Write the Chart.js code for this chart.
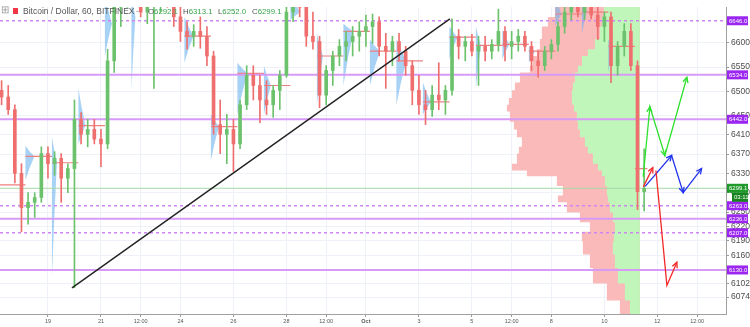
<!DOCTYPE html>
<html>
<head>
<meta charset="utf-8">
<script src="https://cdn.jsdelivr.net/npm/chart.js@4.4.0/dist/chart.umd.min.js"></script>
<style>
  html, body { margin: 0; padding: 0; background: #fff; }
  #wrap { position: relative; width: 750px; height: 327px; overflow: hidden; }
  #header { position: absolute; left: 0; top: 0; width: 300px; height: 20px;
            font: 8.5px "Liberation Sans", Arial, sans-serif; color: #555; }
  #header span { position: absolute; top: 6px; white-space: nowrap; }
  #header .ohlc { font-size: 7.8px; top: 6.5px; }
  #header .v { color: #3aa34a; position: static; }
  #header .sq { top: 8px; width: 5px; height: 6px; background: #f23645; }
</style>
</head>
<body>
<div id="wrap">
  <canvas id="priceChart" width="750" height="327"></canvas>
  <div id="header">
    <span style="left:1px;top:4px;font-size:10px;color:#999">⊞</span>
    <span class="sq" style="left:13px"></span>
    <span style="left:23px">Bitcoin / Dollar, 60, BITFINEX</span>
    <span style="left:136px;color:#999">-</span>
    <span class="ohlc" style="left:148px">O<span class="v">6292.1</span></span>
    <span class="ohlc" style="left:183px">H<span class="v">6313.1</span></span>
    <span class="ohlc" style="left:218px">L<span class="v">6252.0</span></span>
    <span class="ohlc" style="left:252px">C<span class="v">6299.1</span></span>
  </div>
</div>
<script>
// x axis is in days of September (Oct 1 = 31), candles are 6h each
const candleStart = 17.25;
const candleStep = 0.25;

const opens = [
  6502, 6488, 6462, 6330, 6259, 6270, 6280, 6371, 6350, 6361,
  6320, 6340, 6442, 6411, 6421, 6401, 6391, 6563, 6674, 6715,
  6735, 6705, 6664, 6695, 6715, 6725, 6705, 6654, 6624, 6614,
  6624, 6614, 6573, 6431, 6411, 6421, 6391, 6472, 6533, 6512,
  6482, 6472, 6502, 6533, 6664, 6695, 6674, 6614, 6603, 6492,
  6543, 6573, 6593, 6603, 6614, 6624, 6634, 6644, 6593, 6583,
  6603, 6583, 6553, 6502, 6472, 6462, 6492, 6482, 6502, 6614,
  6593, 6603, 6583, 6593, 6583, 6597, 6624, 6593, 6603, 6614,
  6593, 6563, 6553, 6583, 6597, 6634, 6664, 6674, 6664, 6674,
  6658, 6634, 6654, 6553, 6593, 6624, 6553, 6292
];
const highs = [
  6522, 6512, 6472, 6350, 6290, 6290, 6385, 6385, 6375, 6371,
  6350, 6482, 6456, 6442, 6442, 6421, 6587, 6695, 6755, 6765,
  6775, 6745, 6715, 6735, 6755, 6765, 6735, 6674, 6644, 6638,
  6654, 6634, 6583, 6482, 6452, 6442, 6482, 6553, 6553, 6533,
  6522, 6512, 6543, 6695, 6735, 6745, 6705, 6664, 6614, 6553,
  6583, 6607, 6624, 6634, 6644, 6658, 6660, 6654, 6620, 6614,
  6620, 6593, 6563, 6533, 6502, 6512, 6559, 6512, 6650, 6628,
  6614, 6618, 6614, 6614, 6607, 6670, 6634, 6624, 6628, 6624,
  6603, 6583, 6593, 6607, 6644, 6674, 6695, 6695, 6684, 6695,
  6674, 6664, 6664, 6603, 6640, 6640, 6563, 6381
];
const lows = [
  6472, 6452, 6310, 6209, 6225, 6239, 6270, 6320, 6326, 6270,
  6290, 6093, 6391, 6385, 6391, 6344, 6381, 6539, 6634, 6674,
  6684, 6654, 6640, 6506, 6664, 6674, 6634, 6603, 6587, 6593,
  6589, 6553, 6411, 6371, 6350, 6334, 6381, 6462, 6482, 6435,
  6452, 6446, 6462, 6529, 6644, 6654, 6593, 6587, 6466, 6472,
  6512, 6553, 6563, 6573, 6583, 6593, 6599, 6573, 6506, 6553,
  6563, 6533, 6472, 6452, 6431, 6448, 6462, 6452, 6492, 6567,
  6563, 6573, 6512, 6563, 6567, 6583, 6563, 6567, 6583, 6583,
  6543, 6529, 6543, 6567, 6583, 6620, 6648, 6654, 6648, 6650,
  6607, 6603, 6518, 6533, 6573, 6543, 6255, 6252
];
const closes = [
  6488, 6462, 6330, 6259, 6270, 6280, 6371, 6350, 6361, 6320,
  6340, 6442, 6411, 6421, 6401, 6391, 6563, 6674, 6715, 6735,
  6705, 6664, 6695, 6715, 6725, 6705, 6654, 6624, 6614, 6624,
  6614, 6573, 6431, 6411, 6421, 6391, 6472, 6533, 6512, 6482,
  6472, 6502, 6533, 6664, 6695, 6674, 6614, 6603, 6492, 6543,
  6573, 6593, 6603, 6614, 6624, 6634, 6644, 6593, 6583, 6603,
  6583, 6553, 6502, 6472, 6462, 6492, 6482, 6502, 6614, 6593,
  6603, 6583, 6593, 6583, 6597, 6624, 6593, 6603, 6614, 6593,
  6563, 6553, 6583, 6597, 6634, 6664, 6674, 6664, 6674, 6658,
  6634, 6654, 6553, 6593, 6624, 6553, 6292, 6299
];

// axis ticks
const xTickValues = [19, 21, 22.5, 24, 26, 28, 29.5, 31, 33, 35, 36.5, 38, 40, 42, 43.5];
const xTickLabels = ['19', '21', '12:00', '24', '26', '28', '12:00', 'Oct', '3', '5', '12:00', '8', '10', '12', '12:00'];
const yTickValues = [6600, 6550, 6500, 6450, 6410, 6370, 6330, 6290, 6250, 6220, 6190, 6160, 6102, 6074];

// horizontal levels
const solidLevels = [6534, 6442, 6236, 6130];
const dottedLevels = [6646, 6263, 6207];
const lastPrice = 6299.1;
const countdown = '03:11';

// visible range volume profile (right side)
const profilePrices = [6680, 6654, 6634, 6608, 6587, 6573, 6553, 6539, 6518, 6502, 6486, 6472, 6458, 6437, 6421, 6405, 6385,
  6371, 6350, 6336, 6324, 6304, 6284, 6270, 6249, 6229, 6209, 6189, 6162, 6134, 6102, 6067, 6036];
const profileTotal = [83, 85, 92, 98, 100, 103, 107, 110, 120, 125, 128, 131, 133, 130, 126, 123, 118,
  121, 123, 128, 113, 83, 77, 82, 73, 60, 50, 58, 57, 50, 47, 33, 20];
const profileUp = [35, 36, 38, 40, 45, 52, 58, 62, 65, 67, 68, 68, 66, 63, 62, 60, 55,
  52, 47, 42, 38, 35, 33, 32, 30, 27, 25, 26, 27, 25, 22, 15, 10];
const profileAnchor = 41.34;

// session volume profiles (one per day)
const sessionStarts = [17.15, 18.15, 19.15, 20.15, 21.15, 22.15, 23.15, 24.15, 25.15, 26.15, 27.15, 28.15, 29.15,
  30.15, 31.15, 32.15, 33.15, 34.15, 35.15, 36.15, 37.15, 38.15, 39.15, 40.15, 41.15];
const sessionPoc = [6306, 6365, 6352, 6429, null, null, null, 6614, 6427, 6537, 6512, null, 6573,
  6624, 6583, 6563, 6478, 6612, 6595, 6597, 6583, 6660, 6664, 6593, 6340];
const sessionTop = [null, 6387, 6405, 6506, 6700, 6700, null, 6654, 6452, 6559, 6553, 6700, 6620,
  6640, 6607, 6607, 6518, 6634, 6634, 6628, 6593, 6700, 6700, 6607, null];
const sessionBottom = [null, 6316, 6114, 6391, 6573, 6506, null, 6559, 6357, 6452, 6452, 6648, 6472,
  6512, 6512, 6472, 6452, 6567, 6506, 6567, 6559, 6634, 6620, 6539, null];
const sessionPeak = [null, 6365, 6352, 6429, 6640, 6654, null, 6614, 6427, 6537, 6512, 6664, 6573,
  6624, 6583, 6563, 6478, 6612, 6595, 6597, 6583, 6660, 6664, 6593, null];
const sessionVol = [null, 9, 5, 7, 7, 4, null, 9, 8, 10, 7, 10, 6,
  10, 10, 10, 8, 8, 5, 7, 6, 6, 5, 5, null];
const volToDays = 1 / 26.5;

// drawings
const trendX = [19.907, 34.17];
const trendY = [6093, 6650];
const greenPathX = [41.465, 41.718, 42.284, 43.115];
const greenPathY = [6323, 6468, 6367, 6529];
const redUpX = [41.47, 41.83];
const redUpY = [6302, 6342];
const redDownX = [41.945, 42.36, 42.737];
const redDownY = [6336, 6098, 6146];
const bluePathX = [41.54, 42.537, 42.975, 43.67];
const bluePathY = [6303, 6367, 6290, 6340];

const xMin = 17.19, xMax = 44.59;
const yMin = 6038.8, yMax = 6674.3;

const upColor = '#6cc26c';
const downColor = '#ef6f6f';

const candleTimes = opens.map((_, i) => candleStart + i * candleStep);
const candleColors = opens.map((o, i) => closes[i] >= o ? upColor : downColor);

const across = prices => prices.flatMap(p => [{x: xMin, y: p}, {x: xMax, y: p}, {x: xMax, y: null}]);
const path = (xs, ys) => xs.map((x, i) => ({x: x, y: ys[i]}));

const lastIdx = profilePrices.length - 1;
const pinkShape = profilePrices.map((p, k) => ({x: profileAnchor - profileTotal[k] * volToDays, y: p}))
  .concat([{x: profileAnchor, y: profilePrices[lastIdx]}, {x: profileAnchor, y: profilePrices[0]}]);
const greenShape = profilePrices.map((p, k) => ({x: profileAnchor - profileUp[k] * volToDays, y: p}))
  .concat([{x: profileAnchor, y: profilePrices[lastIdx]}, {x: profileAnchor, y: profilePrices[0]}]);

// rounded blob for each session profile: top, widest at the peak, bottom
const sessionShapes = sessionStarts.flatMap((s, k) => {
  if (sessionTop[k] === null) return [];
  const w = sessionVol[k] * volToDays;
  return [
    {x: s, y: sessionTop[k]},
    {x: s + w * 0.45, y: (sessionTop[k] + sessionPeak[k]) / 2},
    {x: s + w, y: sessionPeak[k]},
    {x: s + w * 0.45, y: (sessionPeak[k] + sessionBottom[k]) / 2},
    {x: s, y: sessionBottom[k]},
    {x: s, y: null}
  ];
});
const lastTime = candleTimes[candleTimes.length - 1] + candleStep / 2;
const pocLines = sessionStarts.flatMap((s, k) => sessionPoc[k] === null ? [] : [
  {x: s, y: sessionPoc[k]},
  {x: Math.min(s + 1, lastTime), y: sessionPoc[k]},
  {x: s, y: null}
]);

const lineDefaults = {type: 'line', pointRadius: 0, tension: 0, fill: false, spanGaps: false};

// small chevrons at the end of drawn arrows
const arrowHeads = {
  id: 'arrowHeads',
  afterDatasetsDraw(chart) {
    const ctx = chart.ctx;
    chart.data.datasets.forEach((ds, i) => {
      if (!ds.arrowAt) return;
      const pts = chart.getDatasetMeta(i).data;
      ctx.save();
      ctx.strokeStyle = ds.borderColor;
      ctx.lineWidth = ds.borderWidth;
      ds.arrowAt.forEach(k => {
        const a = pts[k - 1], b = pts[k];
        const ang = Math.atan2(b.y - a.y, b.x - a.x);
        ctx.beginPath();
        ctx.moveTo(b.x - 6 * Math.cos(ang - 0.45), b.y - 6 * Math.sin(ang - 0.45));
        ctx.lineTo(b.x, b.y);
        ctx.lineTo(b.x - 6 * Math.cos(ang + 0.45), b.y - 6 * Math.sin(ang + 0.45));
        ctx.stroke();
      });
      ctx.restore();
    });
  }
};

// price tags on the right axis
const axisTags = {
  id: 'axisTags',
  afterDraw(chart) {
    const ctx = chart.ctx;
    const yScale = chart.scales.y;
    const left = chart.chartArea.right + 1;
    const tag = (price, text, color, offset, x0) => {
      const py = yScale.getPixelForValue(price) + offset;
      ctx.fillStyle = color;
      ctx.fillRect(x0, py - 4.5, 750 - x0 - 2, 9);
      ctx.fillStyle = '#fff';
      ctx.font = '6px "Liberation Sans", Arial, sans-serif';
      ctx.textBaseline = 'middle';
      ctx.fillText(text, x0 + 2, py + 0.5);
    };
    ctx.save();
    dottedLevels.concat(solidLevels).forEach(p => tag(p, p.toFixed(1), '#9b26f2', 0, left));
    tag(lastPrice, lastPrice.toFixed(1), '#1f9a2a', 0, left);
    tag(lastPrice, countdown, '#16841f', 9, left + 5);
    ctx.restore();
  }
};

new Chart(document.getElementById('priceChart'), {
  type: 'bar',
  data: {
    datasets: [
      Object.assign({}, lineDefaults, {
        data: pinkShape, fill: 'shape', stepped: true, borderWidth: 0,
        backgroundColor: '#fbbaba', borderColor: 'rgba(0,0,0,0)', order: 20
      }),
      Object.assign({}, lineDefaults, {
        data: greenShape, fill: 'shape', stepped: true, borderWidth: 0,
        backgroundColor: '#c0f6b9', borderColor: 'rgba(0,0,0,0)', order: 19
      }),
      Object.assign({}, lineDefaults, {
        data: sessionShapes, fill: 'shape', borderWidth: 0,
        backgroundColor: 'rgba(110,180,238,0.6)', borderColor: 'rgba(0,0,0,0)', order: 18
      }),
      Object.assign({}, lineDefaults, {
        data: pocLines, borderColor: '#ee8080', borderWidth: 1.2, order: 17
      }),
      Object.assign({}, lineDefaults, {
        data: across(solidLevels), borderColor: '#d79af6', borderWidth: 2, order: 6
      }),
      Object.assign({}, lineDefaults, {
        data: across(dottedLevels), borderColor: '#cd86f4', borderWidth: 1.3, borderDash: [3, 3], order: 6
      }),
      Object.assign({}, lineDefaults, {
        data: across([lastPrice]), borderColor: '#a6d9a6', borderWidth: 1, order: 7
      }),
      {
        data: candleTimes.map((t, i) => ({x: t, y: [lows[i], highs[i]]})),
        backgroundColor: candleColors, barThickness: 1, grouped: false, order: 3
      },
      {
        data: candleTimes.map((t, i) => ({x: t, y: [opens[i], closes[i]]})),
        backgroundColor: candleColors, barThickness: 3, grouped: false, minBarLength: 1, order: 2
      },
      Object.assign({}, lineDefaults, {
        data: path(trendX, trendY), borderColor: '#222', borderWidth: 1.4, order: 1
      }),
      Object.assign({}, lineDefaults, {
        data: path(greenPathX, greenPathY), borderColor: '#2ee02e', borderWidth: 1.3, order: 0, arrowAt: [1, 2, 3]
      }),
      Object.assign({}, lineDefaults, {
        data: path(redUpX, redUpY), borderColor: '#f22828', borderWidth: 1.3, order: 0, arrowAt: [1]
      }),
      Object.assign({}, lineDefaults, {
        data: path(redDownX, redDownY), borderColor: '#f22828', borderWidth: 1.3, order: 0, arrowAt: [2]
      }),
      Object.assign({}, lineDefaults, {
        data: path(bluePathX, bluePathY), borderColor: '#2233ee', borderWidth: 1.3, order: 0, arrowAt: [1, 2, 3]
      })
    ]
  },
  options: {
    responsive: false,
    animation: false,
    events: [],
    layout: {padding: 0},
    plugins: {legend: {display: false}, tooltip: {enabled: false}},
    scales: {
      x: {
        type: 'linear', min: xMin, max: xMax, offset: false,
        grid: {color: '#eef2f8', offset: false, tickLength: 3, tickColor: '#999'},
        border: {color: '#a0a0a0'},
        afterBuildTicks: scale => { scale.ticks = xTickValues.map(v => ({value: v})); },
        afterFit: scale => { scale.height = 13; },
        ticks: {
          autoSkip: false, maxRotation: 0, padding: 1, color: '#555',
          callback: (v, i) => xTickLabels[i],
          font: ctx => ({family: '"Liberation Sans", Arial, sans-serif', size: 5.5,
                         weight: xTickLabels[ctx.index] === 'Oct' ? 'bold' : 'normal'})
        }
      },
      y: {
        type: 'linear', position: 'right', min: yMin, max: yMax,
        grid: {color: '#eef2f8', tickLength: 3, tickColor: '#999'},
        border: {color: '#a0a0a0'},
        afterBuildTicks: scale => { scale.ticks = yTickValues.map(v => ({value: v})); },
        afterFit: scale => { scale.width = 24; },
        ticks: {
          autoSkip: false, padding: 2, color: '#4d4d4d',
          callback: v => String(v),
          font: {family: '"Liberation Sans", Arial, sans-serif', size: 8.5}
        }
      }
    }
  },
  plugins: [arrowHeads, axisTags]
});
</script>
</body>
</html>
